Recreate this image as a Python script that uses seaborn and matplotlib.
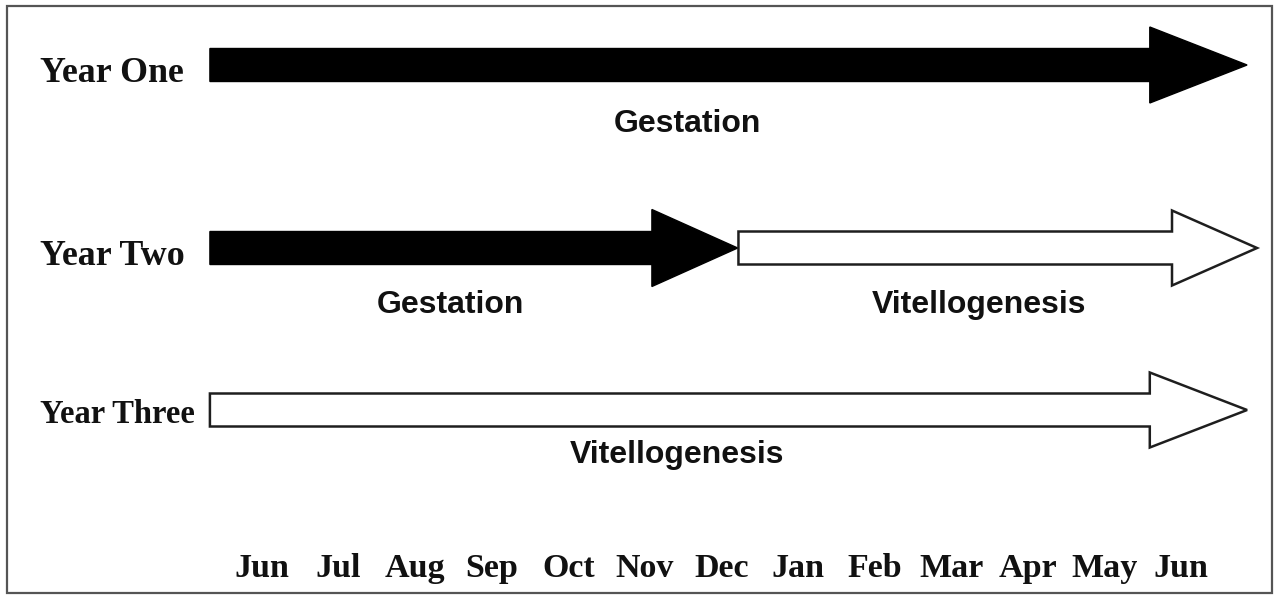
import matplotlib
matplotlib.use("Agg")
import matplotlib.pyplot as plt
from matplotlib.patches import Rectangle
import seaborn as sns

# timeline in month units, Jun = 0 ... next Jun = 12
months = ["Jun", "Jul", "Aug", "Sep", "Oct", "Nov", "Dec",
          "Jan", "Feb", "Mar", "Apr", "May", "Jun"]
years = ["Year One", "Year Two", "Year Three"]

# one entry per arrow segment
seg_year = [0, 1, 1, 2]
seg_phase = ["Gestation", "Gestation", "Vitellogenesis", "Vitellogenesis"]
seg_start = [-0.68, -0.68, 6.22, -0.68]
seg_end = [12.86, 6.21, 12.99, 12.86]
seg_label_x = [5.55, 2.46, 9.36, 5.42]

# vertical layout (pixel rows of the figure)
row_y = [65, 248, 410]
year_text_y = [82, 265, 423]
year_size = [25.8, 25.8, 23.5]
phase_text_y = [132, 313, 313, 463]
head_len = [1.27, 1.12, 1.11, 1.27]
head_w = [76, 77, 75, 75]
shaft_w = 33

PX0, STEP = 262, 76.6  # pixel position of first Jun and month spacing

sns.set_theme(style="white")
plt.rcParams["font.family"] = ["Liberation Sans", "DejaVu Sans"]

fig = plt.figure(figsize=(12.78, 6), dpi=100)
ax = fig.add_axes([0, 0, 1, 1])
ax.set_xlim(-PX0 / STEP, (1278 - PX0) / STEP)
ax.set_ylim(600, 0)
ax.axis("off")

for i in range(len(seg_phase)):
    black = seg_phase[i] == "Gestation"
    ax.arrow(seg_start[i], row_y[seg_year[i]], seg_end[i] - seg_start[i], 0,
             width=shaft_w, head_width=head_w[i], head_length=head_len[i],
             length_includes_head=True,
             facecolor="black" if black else "white",
             edgecolor="black" if black else "#1e1e1e",
             linewidth=1.0 if black else 1.8, joinstyle="miter", zorder=3)
    ax.text(seg_label_x[i], phase_text_y[i], seg_phase[i], ha="center",
            va="baseline", fontsize=23, fontweight="bold", color="#111111",
            family=["Liberation Sans", "DejaVu Sans"])

for j, name in enumerate(years):
    ax.text((40 - PX0) / STEP, year_text_y[j], name, ha="left", va="baseline",
            fontsize=year_size[j], fontweight="bold", color="#111111",
            family=["Liberation Serif", "DejaVu Serif"])

for k, m in enumerate(months):
    ax.text(k, 577, m, ha="center", va="baseline", fontsize=24.5,
            fontweight="bold", color="#111111",
            family=["Liberation Serif", "DejaVu Serif"])

# thin frame around the whole picture
fig.patches.append(Rectangle((7, 7), 1265, 587, transform=None, fill=False,
                             edgecolor="#555555", linewidth=1.6))

fig.savefig("out.png", dpi=100, facecolor="white")
